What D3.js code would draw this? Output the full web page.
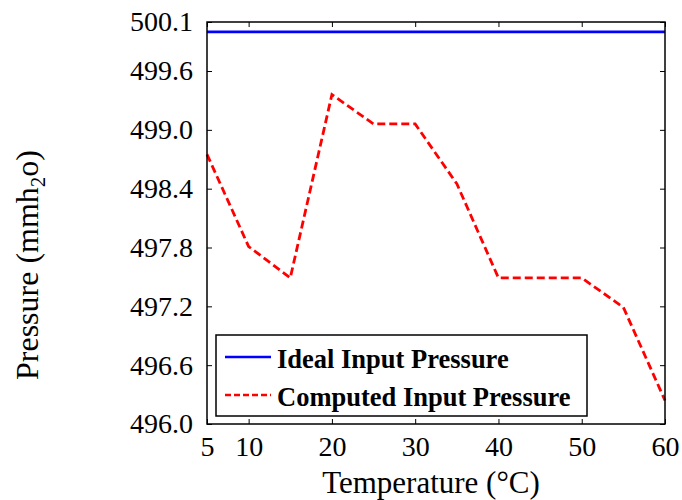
<!DOCTYPE html>
<html>
<head>
<meta charset="utf-8">
<script src="https://cdn.jsdelivr.net/npm/d3@7"></script>
<style>
  html, body { margin: 0; padding: 0; background: #fff; }
  svg { display: block; }
  text { font-family: "Liberation Serif", "Times New Roman", serif; fill: #000; }
</style>
</head>
<body>
<svg id="chart" width="682" height="500"></svg>
<script>
// Temperature (°C) sample points
const temperature = [5, 10, 15, 20, 25, 30, 35, 40, 45, 50, 55, 60];
// Ideal input pressure (mmH2O)
const idealPressure = [500, 500, 500, 500, 500, 500, 500, 500, 500, 500, 500, 500];
// Computed input pressure (mmH2O)
const computedPressure = [498.75, 497.81, 497.49, 499.36, 499.06, 499.06, 498.45, 497.49, 497.49, 497.49, 497.19, 496.24];

const xTicks = [5, 10, 20, 30, 40, 50, 60];
const yTicks = [496.0, 496.6, 497.2, 497.8, 498.4, 499.0, 499.6, 500.1];

const width = 682, height = 500;
const margin = { top: 22, right: 17, bottom: 76, left: 207 };
const innerW = width - margin.left - margin.right;
const innerH = height - margin.top - margin.bottom;

const svg = d3.select("#chart");
const g = svg.append("g").attr("transform", `translate(${margin.left},${margin.top})`);

const x = d3.scaleLinear().domain([5, 60]).range([0, innerW]);
const y = d3.scaleLinear().domain([496, 500.1]).range([innerH, 0]);

const tickLen = 5;

// Axes with inward ticks on all four sides
const xAxisB = d3.axisBottom(x).tickValues(xTicks).tickSizeInner(-tickLen).tickSizeOuter(0).tickPadding(12).tickFormat(d3.format("d"));
const xAxisT = d3.axisTop(x).tickValues(xTicks).tickSizeInner(-tickLen).tickSizeOuter(0).tickFormat("");
const yAxisL = d3.axisLeft(y).tickValues(yTicks).tickSizeInner(-tickLen).tickSizeOuter(0).tickPadding(14).tickFormat(d3.format(".1f"));
const yAxisR = d3.axisRight(y).tickValues(yTicks).tickSizeInner(-tickLen).tickSizeOuter(0).tickFormat("");

function styleAxis(sel) {
  sel.select(".domain").remove();
  sel.selectAll(".tick line").attr("stroke", "#000").attr("stroke-width", 1);
  sel.selectAll(".tick text")
    .style("font-family", '"Liberation Serif", "Times New Roman", serif')
    .style("font-size", "28px")
    .attr("fill", "#000");
}

g.append("g").attr("transform", `translate(0,${innerH})`).call(xAxisB).call(styleAxis)
  .selectAll(".tick text").attr("dy", "0.71em");
g.append("g").call(xAxisT).call(styleAxis);
g.append("g").call(yAxisL).call(styleAxis);
g.append("g").attr("transform", `translate(${innerW},0)`).call(yAxisR).call(styleAxis);

// Data lines
const line = d3.line().x((d, i) => x(temperature[i])).y(d => y(d));

g.append("path")
  .datum(idealPressure)
  .attr("fill", "none")
  .attr("stroke", "#0000ff")
  .attr("stroke-width", 2.8)
  .attr("d", line);

g.append("path")
  .datum(computedPressure)
  .attr("fill", "none")
  .attr("stroke", "#ff0000")
  .attr("stroke-width", 2.8)
  .attr("stroke-dasharray", "8,4")
  .attr("d", line);

// Plot frame
g.append("rect")
  .attr("x", 0).attr("y", 0)
  .attr("width", innerW).attr("height", innerH)
  .attr("fill", "none")
  .attr("stroke", "#000")
  .attr("stroke-width", 1.5);

// Legend
const legend = svg.append("g").attr("transform", "translate(216,335)");
legend.append("rect")
  .attr("width", 371).attr("height", 81)
  .attr("fill", "#fff")
  .attr("stroke", "#000")
  .attr("stroke-width", 1.5);

const legendItems = [
  { label: "Ideal Input Pressure", color: "#0000ff", dash: null, y: 22 },
  { label: "Computed Input Pressure", color: "#ff0000", dash: "6,3", y: 60 }
];
legendItems.forEach(item => {
  legend.append("line")
    .attr("x1", 9).attr("x2", 55)
    .attr("y1", item.y).attr("y2", item.y)
    .attr("stroke", item.color)
    .attr("stroke-width", 2.4)
    .attr("stroke-dasharray", item.dash);
  legend.append("text")
    .attr("x", 61).attr("y", item.y + 11)
    .style("font-size", "26.5px")
    .style("font-weight", "bold")
    .text(item.label);
});

// Axis titles
svg.append("text")
  .attr("x", 431).attr("y", 493)
  .attr("text-anchor", "middle")
  .style("font-size", "31px")
  .text("Temperature (°C)");

const yTitle = svg.append("text")
  .attr("transform", "translate(37.5,265) rotate(-90)")
  .attr("text-anchor", "middle")
  .style("font-size", "32px");
yTitle.append("tspan").text("Pressure (mmh");
yTitle.append("tspan").attr("dy", 7).style("font-size", "21px").text("2");
yTitle.append("tspan").attr("dy", -7).text("o)");
</script>
</body>
</html>
